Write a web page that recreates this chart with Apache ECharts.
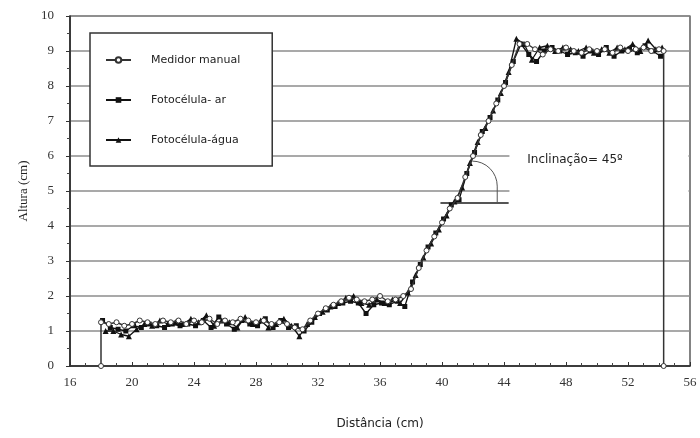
<!DOCTYPE html>
<html><head><meta charset="utf-8">
<script src="https://cdn.jsdelivr.net/npm/echarts@6/dist/echarts.min.js"></script>
<style>html,body{margin:0;padding:0;background:#fff}#c{width:700px;height:438px}</style>
</head><body><div id="c"></div>
<script>
const xTicks = [16, 56, 4];
const yTicks = [0, 10, 1];

const seriesNames = ['Medidor manual', 'Fotocélula- ar', 'Fotocélula-água'];

const manualX = [18,18,18.5,19,19.5,20,20.5,21,21.5,22,22.5,23,23.5,24,24.5,25,25.5,26,26.5,27,27.5,28,28.5,29,29.5,30,30.5,31,31.5,32,32.5,33,33.5,34,34.5,35,35.5,36,36.5,37,37.5,38,38.5,39,39.5,40,40.5,41,41.5,42,42.5,43,43.5,44,44.5,45,45.5,46,46.5,47,47.5,48,48.5,49,49.5,50,50.5,51,51.5,52,52.5,53,53.5,54,54.3,54.3];
const manualY = [0,1.25,1.2,1.25,1.15,1.2,1.3,1.25,1.2,1.3,1.25,1.3,1.2,1.3,1.25,1.35,1.2,1.3,1.25,1.35,1.3,1.25,1.3,1.2,1.25,1.2,1.1,1.05,1.3,1.5,1.65,1.75,1.85,1.95,1.9,1.85,1.9,2.0,1.85,1.9,2.0,2.2,2.8,3.3,3.7,4.1,4.5,4.8,5.4,6.0,6.6,7.0,7.5,8.0,8.6,9.2,9.2,9.05,8.9,9.05,9.0,9.1,9.0,8.95,9.05,9.0,9.05,8.95,9.1,9.0,9.05,9.1,9.0,9.05,9.0,0];

const arX = [18.1,18.6,19.1,19.6,20.1,20.6,21.1,21.6,22.1,22.6,23.1,23.6,24.1,24.6,25.1,25.6,26.1,26.6,27.1,27.6,28.1,28.6,29.1,29.6,30.1,30.6,31.1,31.6,32.1,32.6,33.1,33.6,34.1,34.6,35.1,35.6,36.1,36.6,37.1,37.6,38.1,38.6,39.1,39.6,40.1,40.6,41.1,41.6,42.1,42.6,43.1,43.6,44.1,44.6,45.1,45.6,46.1,46.6,47.1,47.6,48.1,48.6,49.1,49.6,50.1,50.6,51.1,51.6,52.1,52.6,53.1,53.6,54.1];
const arY = [1.3,1.1,1.05,1.0,1.15,1.1,1.2,1.15,1.1,1.2,1.15,1.2,1.15,1.3,1.1,1.4,1.2,1.05,1.3,1.2,1.15,1.35,1.1,1.3,1.1,1.15,1.0,1.25,1.5,1.6,1.7,1.8,1.85,1.8,1.5,1.75,1.8,1.75,1.85,1.7,2.4,2.9,3.4,3.8,4.2,4.6,4.75,5.5,6.1,6.7,7.1,7.6,8.1,8.7,9.2,8.9,8.7,9.0,9.1,9.0,8.9,8.95,8.85,9.0,8.9,9.1,8.85,9.0,9.05,8.95,9.15,9.0,8.85];

const aguaX = [18.3,18.8,19.3,19.8,20.3,20.8,21.3,21.8,22.3,22.8,23.3,23.8,24.3,24.8,25.3,25.8,26.3,26.8,27.3,27.8,28.3,28.8,29.3,29.8,30.3,30.8,31.3,31.8,32.3,32.8,33.3,33.8,34.3,34.8,35.3,35.8,36.3,36.8,37.3,37.8,38.3,38.8,39.3,39.8,40.3,40.8,41.3,41.8,42.3,42.8,43.3,43.8,44.3,44.8,45.3,45.8,46.3,46.8,47.3,47.8,48.3,48.8,49.3,49.8,50.3,50.8,51.3,51.8,52.3,52.8,53.3,53.8,54.2];
const aguaY = [1.0,1.0,0.9,0.85,1.05,1.2,1.15,1.3,1.2,1.25,1.2,1.35,1.25,1.45,1.15,1.3,1.25,1.1,1.4,1.2,1.3,1.1,1.2,1.35,1.15,0.85,1.2,1.4,1.55,1.7,1.8,1.95,2.0,1.8,1.75,1.9,1.8,1.9,1.8,2.1,2.6,3.1,3.5,3.9,4.3,4.7,5.1,5.8,6.4,6.8,7.3,7.8,8.4,9.35,9.2,8.75,9.1,9.15,9.0,9.1,9.05,9.0,9.1,8.95,9.05,8.95,9.1,9.05,9.2,9.0,9.3,9.05,9.1];

// annotation (angle drawing) in data units
const annoText = 'Inclinação= 45º';
const annoTextPos = [45.5, 5.9];
const annoBaseLine = [[39.9, 4.66], [44.3, 4.66]];
const annoArcCenter = [41.95, 5.14];
const annoCover = [[44.35, 6.35], [55.9, 4.8]];

const zip = (a, b) => a.map((v, i) => [v, b[i]]);

const chart = echarts.init(document.getElementById('c'));
const serif = 'Liberation Serif';
const sans = 'DejaVu Sans';

chart.setOption({
  animation: false,
  backgroundColor: '#fff',
  grid: { left: 70, right: 10, top: 16, bottom: 72, show: true, borderColor: '#333', borderWidth: 1.2 },
  legend: {
    data: seriesNames,
    orient: 'vertical',
    left: 90, top: 33,
    padding: [20, 32, 19, 15],
    itemGap: 26,
    itemWidth: 25, itemHeight: 7,
    backgroundColor: '#fff',
    borderColor: '#333', borderWidth: 1.5,
    textStyle: { fontFamily: sans, fontSize: 11, color: '#222', padding: [0, 0, 0, 15], lineHeight: 14 }
  },
  xAxis: {
    type: 'value', min: xTicks[0], max: xTicks[1], interval: xTicks[2],
    name: 'Distância (cm)', nameLocation: 'middle', nameGap: 52,
    nameTextStyle: { fontFamily: sans, fontSize: 12, color: '#222' },
    axisLine: { lineStyle: { color: '#222', width: 1.5 } },
    axisTick: { inside: true, length: 4, lineStyle: { color: '#333' } },
    minorTick: { show: true, splitNumber: 4, length: 3, lineStyle: { color: '#444' } },
    splitLine: { show: false },
    axisLabel: { fontFamily: serif, fontSize: 13, color: '#333', margin: 10 }
  },
  yAxis: {
    type: 'value', min: yTicks[0], max: yTicks[1], interval: yTicks[2],
    name: 'Altura (cm)', nameLocation: 'middle', nameGap: 40, nameRotate: 90,
    nameTextStyle: { fontFamily: serif, fontSize: 13, color: '#222' },
    axisLine: { lineStyle: { color: '#222', width: 1.5 } },
    axisTick: { inside: false, length: 4, lineStyle: { color: '#333' } },
    minorTick: { show: true, splitNumber: 2, length: 3, lineStyle: { color: '#444' } },
    splitLine: { show: true, lineStyle: { color: '#8c8c8c', width: 1.5 } },
    axisLabel: { fontFamily: serif, fontSize: 13, color: '#333', margin: 16 }
  },
  series: [
    {
      type: 'custom', name: 'anno', silent: true, z: 1,
      data: [[0, 0]],
      renderItem: function (params, api) {
        const c1 = api.coord(annoCover[0]), c2 = api.coord(annoCover[1]);
        const b1 = api.coord(annoBaseLine[0]), b2 = api.coord(annoBaseLine[1]);
        const ac = api.coord(annoArcCenter);
        const tp = api.coord(annoTextPos);
        const r = 25;
        return {
          type: 'group',
          children: [
            { type: 'rect', shape: { x: c1[0], y: c1[1], width: c2[0] - c1[0], height: c2[1] - c1[1] }, style: { fill: '#fff' } },
            { type: 'line', shape: { x1: b1[0], y1: b1[1], x2: b2[0], y2: b2[1] }, style: { stroke: '#555', lineWidth: 2 } },
            { type: 'arc', shape: { cx: ac[0], cy: ac[1], r: r, startAngle: -Math.PI / 2, endAngle: 0, clockwise: true }, style: { stroke: '#555', lineWidth: 1, fill: null } },
            { type: 'line', shape: { x1: ac[0] + r, y1: ac[1], x2: ac[0] + r, y2: b1[1] }, style: { stroke: '#555', lineWidth: 1 } },
            { type: 'text', x: tp[0], y: tp[1], style: { text: annoText, fontFamily: sans, fontSize: 12, fill: '#222', verticalAlign: 'middle' } }
          ]
        };
      }
    },
    {
      type: 'line', name: seriesNames[0], data: zip(manualX, manualY), z: 4,
      symbol: 'circle', symbolSize: 5, showAllSymbol: true,
      lineStyle: { color: '#333', width: 1.5 },
      itemStyle: { color: '#fff', borderColor: '#333', borderWidth: 1 }
    },
    {
      type: 'line', name: seriesNames[1], data: zip(arX, arY), z: 3,
      symbol: 'rect', symbolSize: 5, showAllSymbol: true,
      lineStyle: { color: '#111', width: 1.3 },
      itemStyle: { color: '#111' }
    },
    {
      type: 'line', name: seriesNames[2], data: zip(aguaX, aguaY), z: 3,
      symbol: 'triangle', symbolSize: 6, showAllSymbol: true,
      lineStyle: { color: '#111', width: 1.3 },
      itemStyle: { color: '#111' }
    }
  ]
});
</script>
</body></html>
